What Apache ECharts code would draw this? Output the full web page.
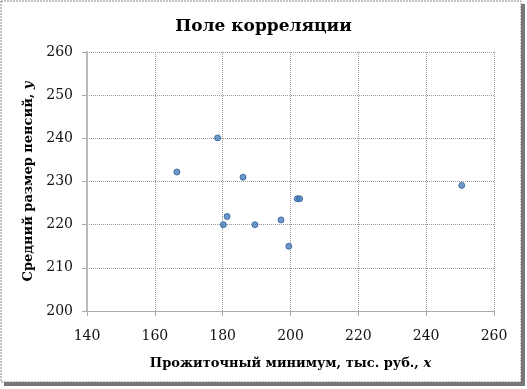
<!DOCTYPE html>
<html><head><meta charset="utf-8">
<script src="https://cdn.jsdelivr.net/npm/echarts@6/dist/echarts.min.js"></script>
<style>html,body{margin:0;padding:0;background:#fff}#c{width:527px;height:389px}</style>
</head><body><div id="c"></div>
<script>
const xValues = [166.5, 178.5, 186, 202, 202.7, 181.3, 180.2, 189.5, 197.2, 199.5, 250.5];
const yValues = [232.2, 240.1, 231, 226, 226, 221.9, 220, 220, 221.1, 215, 229.1];
const xTicks = [140, 260, 20];
const yTicks = [200, 260, 10];
const titleText = 'Поле корреляции';
const xName = 'Прожиточный минимум, тыс. руб., ';
const yName = 'Средний размер пенсий, ';

const pts = xValues.map((x, i) => [x, yValues[i]]);
const chart = echarts.init(document.getElementById('c'), null, {renderer: 'canvas'});
const serif = '"DejaVu Serif", "Liberation Serif", serif';
chart.setOption({
  animation: false,
  title: {text: titleText, left: 'center', top: 13,
    textStyle: {fontFamily: serif, fontWeight: 'bold', fontSize: 17, color: '#000'}},
  grid: {left: 87, right: 33, top: 52, bottom: 78},
  graphic: [
    {type: 'rect', shape: {x: 1, y: 1, width: 520, height: 381},
     style: {fill: 'none', stroke: '#888', lineWidth: 1, lineDash: [2, 1]}},
    {type: 'rect', shape: {x: 521, y: 4, width: 4, height: 381}, style: {fill: '#777'}},
    {type: 'rect', shape: {x: 4, y: 382, width: 521, height: 4}, style: {fill: '#777'}}
  ],
  xAxis: {type: 'value', min: xTicks[0], max: xTicks[1], interval: xTicks[2],
    name: xName + '{i|x}', nameLocation: 'middle', nameGap: 46,
    nameTextStyle: {fontFamily: serif, fontWeight: 'bold', fontSize: 13, color: '#000',
      rich: {i: {fontFamily: serif, fontStyle: 'italic', fontWeight: 'bold', fontSize: 13}}},
    axisLine: {show: true, lineStyle: {color: '#aaa', width: 1}},
    axisTick: {show: true, length: 5, lineStyle: {color: '#aaa'}},
    axisLabel: {fontFamily: serif, fontSize: 14, color: '#111', margin: 18},
    splitLine: {show: true, lineStyle: {color: '#999', type: [1, 1]}}},
  yAxis: {type: 'value', min: yTicks[0], max: yTicks[1], interval: yTicks[2],
    name: yName + '{i|y}', nameLocation: 'middle', nameGap: 50,
    nameTextStyle: {fontFamily: serif, fontWeight: 'bold', fontSize: 13, color: '#000',
      rich: {i: {fontFamily: serif, fontStyle: 'italic', fontWeight: 'bold', fontSize: 13}}},
    axisLine: {show: true, lineStyle: {color: '#bbb', width: 2}},
    axisTick: {show: true, length: 5, lineStyle: {color: '#aaa'}},
    axisLabel: {fontFamily: serif, fontSize: 14, color: '#111', margin: 14},
    splitLine: {show: true, lineStyle: {color: '#999', type: [1, 1]}}},
  series: [{type: 'scatter', data: pts, symbol: 'circle', symbolSize: 6,
    itemStyle: {color: '#4a7ebb', borderColor: '#2c5d98', borderWidth: 1}}]
});
</script></body></html>
